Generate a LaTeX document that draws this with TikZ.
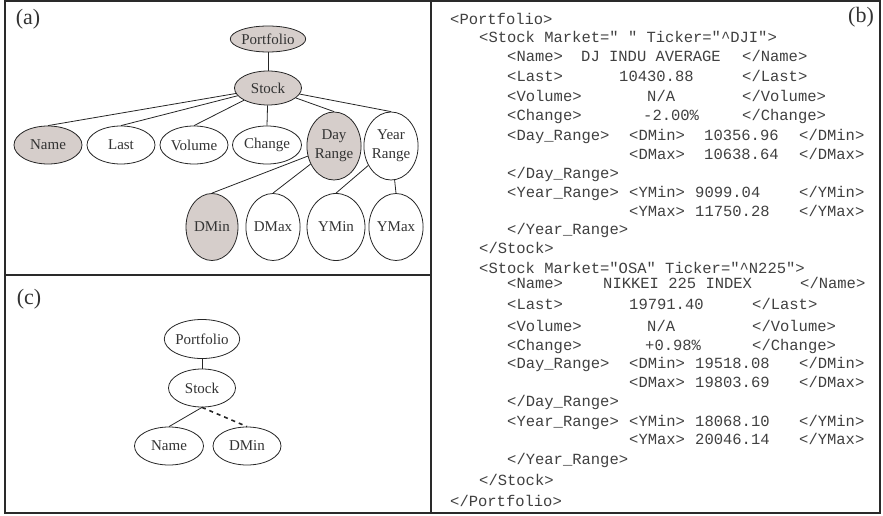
\documentclass[tikz,border=0pt]{standalone}
\usepackage{fontspec}
\setmainfont{Liberation Serif}
\setmonofont{Liberation Mono}
\usetikzlibrary{shapes.geometric}
\definecolor{nodefill}{HTML}{D6CECB}
\definecolor{txt}{HTML}{333333}
\definecolor{codec}{HTML}{404040}
\definecolor{framec}{HTML}{2A2A2A}
\newcommand\cl[4]{\node[codetext] (#1) at (#2,#3) {#4};}
\begin{document}
\begin{tikzpicture}[x=1pt,y=-1pt,
  tn/.style={ellipse, draw=black!85, line width=0.8pt, inner sep=0pt, text=txt,
             font=\fontsize{15}{19}\selectfont, align=center},
  sh/.style={fill=nodefill},
  codetext/.style={anchor=base west, inner sep=0pt, text=codec,
             font=\ttfamily\fontsize{15.5}{19}\selectfont},
  edge/.style={line width=0.8pt, draw=black!85},
  lbl/.style={inner sep=0pt, text=txt, font=\fontsize{22}{24}\selectfont}]
\useasboundingbox (0,0) rectangle (883,516);
% frames
\draw[framec, line width=1.4pt] (5,1) rectangle (880,513);
\draw[framec, line width=1.4pt] (431,1) -- (431,513);
\draw[framec, line width=1.4pt] (5,275) -- (431,275);
% labels
\node[lbl] (la) at (28,19) {(a)};
\node[lbl] (lb) at (861,17) {(b)};
\node[lbl] (lc) at (29,299) {(c)};
% tree (a)
\node[tn,sh,minimum width=68pt,minimum height=26pt] (ap) at (268,39) {Portfolio};
\node[tn,sh,minimum width=67pt,minimum height=34pt] (as) at (268,88) {Stock};
\node[tn,sh,minimum width=68pt,minimum height=38pt] (an) at (48,145) {Name};
\node[tn,minimum width=68pt,minimum height=38pt] (al) at (121,145) {Last};
\node[tn,minimum width=68pt,minimum height=38pt] (av) at (194,145) {Volume};
\node[tn,minimum width=69pt,minimum height=38pt] (ac) at (267,145) {Change};
\node[tn,sh,minimum width=44pt,minimum height=68pt] (ad) at (334,146) {Day\\Range};
\node[tn,minimum width=47pt,minimum height=68pt] (ay) at (391,146) {Year\\Range};
\node[tn,sh,minimum width=52pt,minimum height=67pt] (adn) at (212,227) {DMin};
\node[tn,minimum width=51pt,minimum height=67pt] (adx) at (273,227) {DMax};
\node[tn,minimum width=58pt,minimum height=67pt] (ayn) at (336,227) {YMin};
\node[tn,minimum width=49pt,minimum height=67pt] (ayx) at (396,227) {YMax};
\draw[edge] (ap) -- (as);
\draw[edge] (as) -- (an.north);
\draw[edge] (as) -- (al.north);
\draw[edge] (as) -- (av.north);
\draw[edge] (as) -- (ac.north);
\draw[edge] (as) -- (ad.north);
\draw[edge] (as) -- (ay.north);
\draw[edge] (ad) -- (adn.north);
\draw[edge] (ad) -- (adx.north);
\draw[edge] (ay) -- (ayn.north);
\draw[edge] (ay) -- (ayx.north);
% tree (c)
\node[tn,minimum width=69pt,minimum height=39pt] (cp) at (202,339) {Portfolio};
\node[tn,minimum width=67pt,minimum height=38pt] (cs) at (202,388) {Stock};
\node[tn,minimum width=69pt,minimum height=38pt] (cn) at (169,446) {Name};
\node[tn,minimum width=68pt,minimum height=38pt] (cd) at (247,446) {DMin};
\draw[edge] (cp) -- (cs);
\draw[edge] (cs.south) -- (cn.north);
\draw[edge, line width=1.6pt, dash pattern=on 4pt off 4pt] (cs.south) -- (cd.north);
% code (b)
\cl{b1}{450}{25}{<Portfolio>}
\cl{b2}{479}{43}{<Stock Market=" " Ticker="\textasciicircum DJI">}
\cl{b3a}{507}{62}{<Name>}\cl{b3b}{581}{62}{DJ INDU AVERAGE}\cl{b3c}{742}{62}{</Name>}
\cl{b4a}{507}{82}{<Last>}\cl{b4b}{619}{82}{10430.88}\cl{b4c}{742}{82}{</Last>}
\cl{b5a}{507}{102}{<Volume>}\cl{b5b}{647}{102}{N/A}\cl{b5c}{742}{102}{</Volume>}
\cl{b6a}{507}{121}{<Change>}\cl{b6b}{643}{121}{-2.00\%}\cl{b6c}{742}{121}{</Change>}
\cl{b7a}{507}{140}{<Day\_Range>}\cl{b7b}{629}{140}{<DMin>}\cl{b7c}{704}{140}{10356.96}\cl{b7d}{799}{140}{</DMin>}
\cl{b8b}{629}{159}{<DMax>}\cl{b8c}{704}{159}{10638.64}\cl{b8d}{799}{159}{</DMax>}
\cl{b9}{507}{178}{</Day\_Range>}
\cl{b10a}{507}{197}{<Year\_Range>}\cl{b10b}{629}{197}{<YMin>}\cl{b10c}{695}{197}{9099.04}\cl{b10d}{799}{197}{</YMin>}
\cl{b11b}{629}{216}{<YMax>}\cl{b11c}{695}{216}{11750.28}\cl{b11d}{799}{216}{</YMax>}
\cl{b12}{507}{234}{</Year\_Range>}
\cl{b13}{479}{253}{</Stock>}
\cl{b14}{479}{273}{<Stock Market="OSA" Ticker="\textasciicircum N225">}
\cl{b15a}{507}{288}{<Name>}\cl{b15b}{603}{288}{NIKKEI 225 INDEX}\cl{b15c}{800}{288}{</Name>}
\cl{b16a}{507}{309}{<Last>}\cl{b16b}{629}{309}{19791.40}\cl{b16c}{752}{309}{</Last>}
\cl{b17a}{507}{331}{<Volume>}\cl{b17b}{647}{331}{N/A}\cl{b17c}{752}{331}{</Volume>}
\cl{b18a}{507}{350}{<Change>}\cl{b18b}{645}{350}{+0.98\%}\cl{b18c}{752}{350}{</Change>}
\cl{b19a}{507}{368}{<Day\_Range>}\cl{b19b}{629}{368}{<DMin>}\cl{b19c}{695}{368}{19518.08}\cl{b19d}{799}{368}{</DMin>}
\cl{b20b}{629}{387}{<DMax>}\cl{b20c}{695}{387}{19803.69}\cl{b20d}{799}{387}{</DMax>}
\cl{b21}{507}{406}{</Day\_Range>}
\cl{b22a}{507}{426}{<Year\_Range>}\cl{b22b}{629}{426}{<YMin>}\cl{b22c}{695}{426}{18068.10}\cl{b22d}{799}{426}{</YMin>}
\cl{b23b}{629}{444}{<YMax>}\cl{b23c}{695}{444}{20046.14}\cl{b23d}{799}{444}{</YMax>}
\cl{b24}{507}{464}{</Year\_Range>}
\cl{b25}{479}{485}{</Stock>}
\cl{b26}{450}{506}{</Portfolio>}
\end{tikzpicture}
\end{document}
